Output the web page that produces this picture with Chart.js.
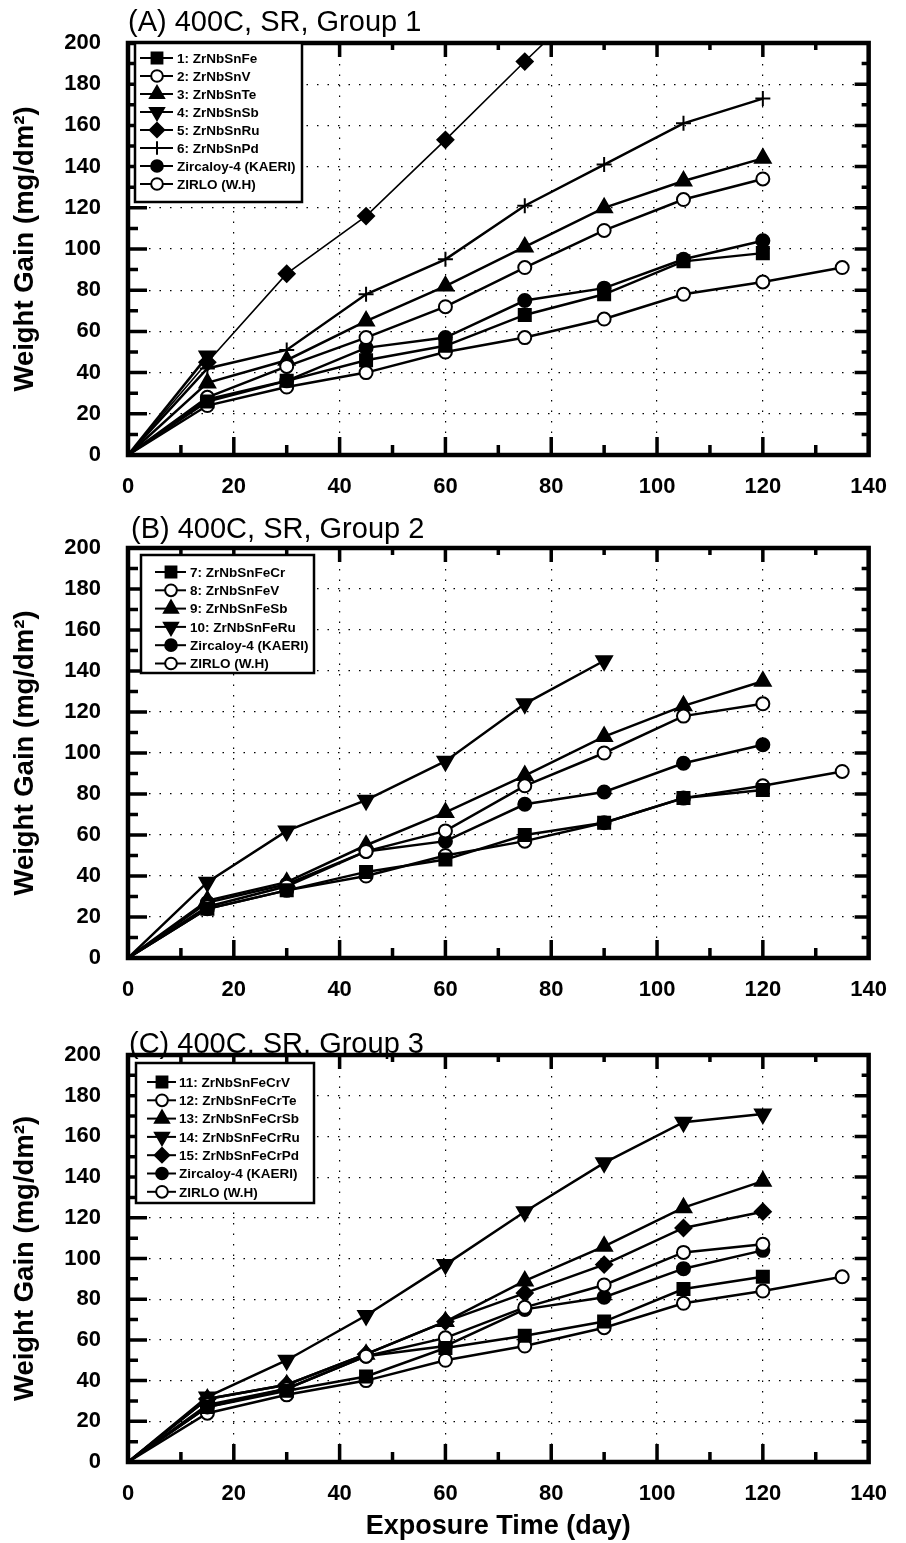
<!DOCTYPE html>
<html>
<head>
<meta charset="utf-8">
<title>Weight gain, 400C SR</title>
<script src="https://cdn.jsdelivr.net/npm/chart.js@4.4.1/dist/chart.umd.min.js"></script>
<style>
  html, body { margin: 0; padding: 0; background: #fff; }
  body { width: 906px; height: 1543px; position: relative; overflow: hidden; }
  .panel { position: absolute; left: 0; width: 906px; }
</style>
</head>
<body>
<div class="panel" style="top:0;height:506px"><canvas id="chartA"></canvas></div>
<div class="panel" style="top:506px;height:506px"><canvas id="chartB"></canvas></div>
<div class="panel" style="top:1012px;height:531px"><canvas id="chartC"></canvas></div>
<script>
// exposure time (day) and axis ticks
const days = [0, 15, 30, 45, 60, 75, 90, 105, 120, 135];
const xTicks = [0, 20, 40, 60, 80, 100, 120, 140];
const yTicks = [0, 20, 40, 60, 80, 100, 120, 140, 160, 180, 200];

// reference alloys, same curves in all three panels
const zry4Gain = [0, 27, 36, 52, 57, 75, 81, 95, 104];
const zirloGain = [0, 24, 33, 40, 50, 57, 66, 78, 84, 91];

// (A) group 1
const a1Fe = [0, 26, 36, 46, 53, 68, 78, 94, 98];
const a2V = [0, 28, 43, 57, 72, 91, 109, 124, 134];
const a3Te = [0, 35, 46, 65, 82, 101, 120, 133, 144];
const a4Sb = [0, 48];
const a5Ru = [0, 45, 88, 116, 153, 191, 228];
const a6Pd = [0, 42, 51, 78, 95, 121, 141, 161, 173];

// (B) group 2
const b7FeCr = [0, 24, 33, 42, 48, 60, 66, 78, 82];
const b8FeV = [0, 25, 35, 52, 62, 84, 100, 118, 124];
const b9FeSb = [0, 28, 37, 55, 71, 89, 108, 123, 135];
const b10FeRu = [0, 37, 62, 77, 96, 124, 145];

// (C) group 3
const c11FeCrV = [0, 27, 35, 42, 56, 62, 69, 85, 91];
const c12FeCrTe = [0, 28, 36, 52, 61, 76, 87, 103, 107];
const c13FeCrSb = [0, 31, 38, 53, 69, 89, 106, 125, 138];
const c14FeCrRu = [0, 32, 50, 72, 97, 123, 147, 167, 171];
const c15FeCrPd = [0, 31, 38, 53, 69, 83, 97, 115, 123];

const FONT = "'Liberation Sans', Arial, Helvetica, sans-serif";

const MARKERS = {
  square: { pointStyle: "rect", radius: 8.5, fill: "#000" },
  openCircle: { pointStyle: "circle", radius: 6.5, fill: "#fff" },
  circle: { pointStyle: "circle", radius: 6.5, fill: "#000" },
  triUp: { pointStyle: "triangle", radius: 9, fill: "#000", rotation: 0 },
  triDown: { pointStyle: "triangle", radius: 9, fill: "#000", rotation: 180 },
  diamond: { pointStyle: "rectRot", radius: 8, fill: "#000" },
  plus: { pointStyle: "cross", radius: 7.5, fill: "#000" },
};

function series(label, values, mk, lineWidth) {
  const m = MARKERS[mk];
  return {
    label: label,
    marker: mk,
    data: values.map((v, i) => ({ x: days[i], y: v })),
    borderColor: "#000",
    borderWidth: lineWidth || 2.5,
    pointStyle: m.pointStyle,
    pointRotation: m.rotation || 0,
    pointRadius: (c) => (c.dataIndex === 0 ? 0 : m.radius),
    pointBackgroundColor: m.fill,
    pointBorderColor: "#000",
    pointBorderWidth: 2,
    tension: 0,
    fill: false,
  };
}

// frame, inward ticks, inset legend and panel title
const panelDecor = {
  id: "panelDecor",
  afterDatasetsDraw(chart, args, opts) {
    const { ctx, chartArea: a, scales } = chart;
    const x = scales.x, y = scales.y;
    ctx.save();
    ctx.strokeStyle = "#000";
    ctx.fillStyle = "#000";

    ctx.lineWidth = 3.5;
    ctx.beginPath();
    for (let v = x.min + 10; v < x.max; v += 10) {
      const px = x.getPixelForValue(v);
      const major = v % 20 === 0;
      ctx.moveTo(px, a.bottom);
      ctx.lineTo(px, a.bottom - (major ? 18 : 10));
      ctx.moveTo(px, a.top);
      ctx.lineTo(px, a.top + (major ? 14 : 7));
    }
    for (let v = y.min + 10; v < y.max; v += 10) {
      const py = y.getPixelForValue(v);
      const major = v % 20 === 0;
      ctx.moveTo(a.left, py);
      ctx.lineTo(a.left + (major ? 19 : 10), py);
      ctx.moveTo(a.right, py);
      ctx.lineTo(a.right - (major ? 14 : 7), py);
    }
    ctx.stroke();

    ctx.lineWidth = 4.5;
    ctx.strokeRect(a.left, a.top, a.right - a.left, a.bottom - a.top);

    // legend box
    const L = opts.legend;
    const bx = a.left + L.x, by = a.top + L.y;
    ctx.fillStyle = "#fff";
    ctx.fillRect(bx, by, L.w, L.h);
    ctx.lineWidth = 2.5;
    ctx.strokeRect(bx, by, L.w, L.h);
    ctx.font = "bold 13.5px " + FONT;
    ctx.textBaseline = "middle";
    ctx.textAlign = "left";
    chart.data.datasets.forEach((ds, i) => {
      const ly = by + L.first + i * L.gap;
      const m = MARKERS[ds.marker];
      ctx.strokeStyle = "#000";
      ctx.lineWidth = 2;
      ctx.beginPath();
      ctx.moveTo(bx + L.line[0], ly);
      ctx.lineTo(bx + L.line[1], ly);
      ctx.stroke();
      ctx.fillStyle = m.fill;
      ctx.lineWidth = 2;
      Chart.helpers.drawPoint(ctx, {
        pointStyle: m.pointStyle,
        rotation: m.rotation || 0,
        radius: m.radius * 0.9,
        borderWidth: 2,
      }, bx + L.mark, ly);
      ctx.fillStyle = "#000";
      ctx.fillText(ds.label, bx + L.text, ly + 1);
    });

    ctx.font = "29px " + FONT;
    ctx.fillStyle = "#000";
    ctx.textBaseline = "middle";
    ctx.fillText(opts.title, a.left + opts.titleDx, a.top - opts.titleDy);
    ctx.restore();
  },
};

const tickFont = { family: FONT, size: 22, weight: "bold" };

function makePanel(id, datasets, cfg) {
  return new Chart(document.getElementById(id), {
    type: "line",
    data: { datasets: datasets },
    options: {
      responsive: true,
      maintainAspectRatio: false,
      animation: false,
      layout: { padding: { top: cfg.padTop, right: 29, left: 0, bottom: 0 } },
      plugins: {
        legend: { display: false },
        tooltip: { enabled: false },
        panelDecor: cfg.decor,
      },
      scales: {
        x: {
          type: "linear",
          min: 0,
          max: 140,
          afterBuildTicks: (s) => { s.ticks = xTicks.map((v) => ({ value: v })); },
          afterFit: (s) => { s.height = cfg.xHeight; },
          ticks: { font: tickFont, color: "#000", padding: 19, maxRotation: 0, autoSkip: false },
          grid: { color: "#000", lineWidth: 1.2, drawTicks: false },
          border: { display: false, dash: [1.5, 9] },
          title: {
            display: !!cfg.xTitle,
            text: cfg.xTitle || "",
            color: "#000",
            font: { family: FONT, size: 27, weight: "bold" },
            padding: { top: 0, bottom: 0 },
          },
        },
        y: {
          min: 0,
          max: 200,
          afterBuildTicks: (s) => { s.ticks = yTicks.map((v) => ({ value: v })); },
          afterFit: (s) => { s.width = 128; },
          ticks: { font: tickFont, color: "#000", padding: 27, autoSkip: false },
          grid: { color: "#000", lineWidth: 1.2, drawTicks: false },
          border: { display: false, dash: [1.5, 9] },
          title: {
            display: true,
            text: "Weight Gain (mg/dm²)",
            color: "#000",
            font: { family: FONT, size: 27.5, weight: "bold" },
            padding: { top: 9, bottom: 0 },
          },
        },
      },
    },
    plugins: [panelDecor],
  });
}

makePanel("chartA", [
  series("1: ZrNbSnFe", a1Fe, "square"),
  series("2: ZrNbSnV", a2V, "openCircle"),
  series("3: ZrNbSnTe", a3Te, "triUp"),
  series("4: ZrNbSnSb", a4Sb, "triDown"),
  series("5: ZrNbSnRu", a5Ru, "diamond", 1.6),
  series("6: ZrNbSnPd", a6Pd, "plus"),
  series("Zircaloy-4 (KAERI)", zry4Gain, "circle"),
  series("ZIRLO (W.H)", zirloGain, "openCircle"),
], {
  padTop: 43, xHeight: 51,
  decor: {
    title: "(A) 400C, SR, Group 1", titleDx: 0, titleDy: 20,
    legend: { x: 7, y: 0, w: 167, h: 159, first: 15, gap: 18, line: [5, 38], mark: 22, text: 42 },
  },
});

makePanel("chartB", [
  series("7: ZrNbSnFeCr", b7FeCr, "square"),
  series("8: ZrNbSnFeV", b8FeV, "openCircle"),
  series("9: ZrNbSnFeSb", b9FeSb, "triUp"),
  series("10: ZrNbSnFeRu", b10FeRu, "triDown"),
  series("Zircaloy-4 (KAERI)", zry4Gain, "circle"),
  series("ZIRLO (W.H)", zirloGain, "openCircle"),
], {
  padTop: 42, xHeight: 54,
  decor: {
    title: "(B) 400C, SR, Group 2", titleDx: 3, titleDy: 18,
    legend: { x: 13, y: 7, w: 173, h: 118, first: 17, gap: 18.3, line: [14, 45], mark: 30, text: 49 },
  },
});

makePanel("chartC", [
  series("11: ZrNbSnFeCrV", c11FeCrV, "square"),
  series("12: ZrNbSnFeCrTe", c12FeCrTe, "openCircle"),
  series("13: ZrNbSnFeCrSb", c13FeCrSb, "triUp"),
  series("14: ZrNbSnFeCrRu", c14FeCrRu, "triDown"),
  series("15: ZrNbSnFeCrPd", c15FeCrPd, "diamond"),
  series("Zircaloy-4 (KAERI)", zry4Gain, "circle"),
  series("ZIRLO (W.H)", zirloGain, "openCircle"),
], {
  padTop: 43, xHeight: 81, xTitle: "Exposure Time (day)",
  decor: {
    title: "(C) 400C, SR, Group 3", titleDx: 1, titleDy: 10,
    legend: { x: 8, y: 8, w: 178, h: 140, first: 19, gap: 18.3, line: [11, 40], mark: 26, text: 43 },
  },
});
</script>
</body>
</html>
